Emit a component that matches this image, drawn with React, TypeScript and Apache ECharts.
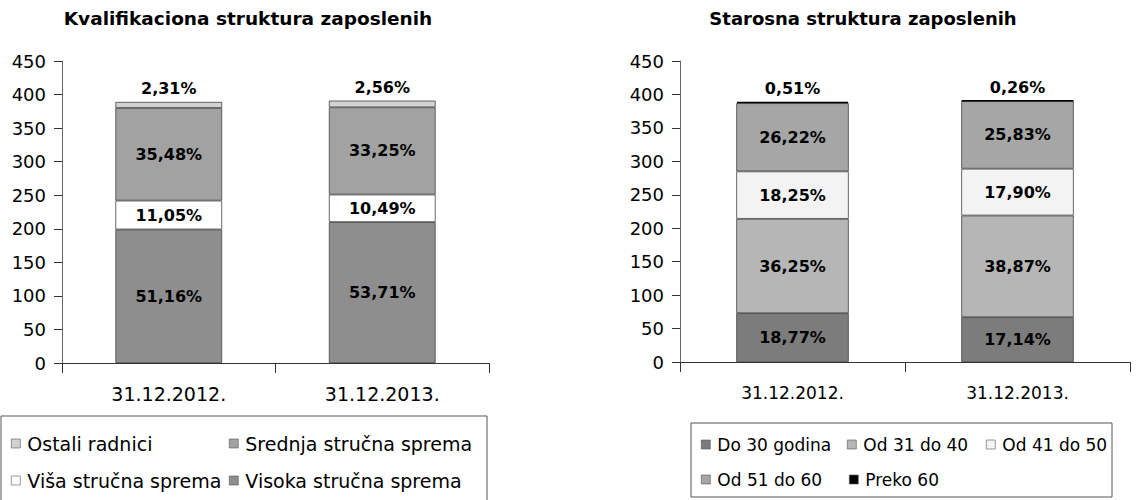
import React, { useEffect, useRef } from "react";
import * as echarts from "echarts";

const categories = ["31.12.2012.", "31.12.2013."];
const yTicks = { min: 0, max: 450, interval: 50 };

// Left chart: Kvalifikaciona struktura (number of employees)
const leftNames = ["Visoka stručna sprema", "Viša stručna sprema", "Srednja stručna sprema", "Ostali radnici"];
const visoka = [199, 210];
const visa = [43, 41];
const srednja = [138, 130];
const ostali = [9, 10];
const leftColors = ["#8e8e8e", "#ffffff", "#a2a2a2", "#d2d2d2"];

// Right chart: Starosna struktura
const rightNames = ["Do 30 godina", "Od 31 do 40", "Od 41 do 50", "Od 51 do 60", "Preko 60"];
const do30 = [73, 67];
const od31 = [141, 152];
const od41 = [71, 70];
const od51 = [102, 101];
const preko60 = [2, 1];
const rightColors = ["#7c7c7c", "#b6b6b6", "#f3f3f3", "#a6a6a6", "#000000"];

const FONT = "DejaVu Sans, Verdana, sans-serif";

export default function App() {
  const ref = useRef<HTMLDivElement>(null);
  useEffect(() => {
    document.body.style.margin = "0";
    const chart = echarts.init(ref.current!, null, { renderer: "svg" });
    const leftData = [visoka, visa, srednja, ostali];
    const rightData = [do30, od31, od41, od51, preko60];
    const leftTotals = categories.map((_, i) => leftData.reduce((s, a) => s + a[i], 0));
    const rightTotals = categories.map((_, i) => rightData.reduce((s, a) => s + a[i], 0));
    const pct = (v: number, t: number) => ((v / t) * 100).toFixed(2).replace(".", ",") + "%";

    const mkSeries = (
      names: string[], data: number[][], colors: string[], totals: number[], axisIdx: number, stack: string,
      whiteBg: number[]
    ) =>
      names.map((name, k) => {
        const isTop = k === names.length - 1;
        const isBlack = colors[k] === "#000000";
        return {
          name,
          type: "bar",
          stack,
          xAxisIndex: axisIdx,
          yAxisIndex: axisIdx,
          barWidth: "50%",
          data: data[k],
          itemStyle: { color: colors[k], borderColor: isBlack ? "#000" : "#444", borderWidth: isBlack ? 1.5 : 0.8 },
          label: {
            show: true,
            position: isTop ? "top" : "inside",
            distance: 5,
            fontFamily: FONT,
            fontSize: 16,
            fontWeight: "bold",
            color: "#000",
            formatter: (p: any) => pct(p.value, totals[p.dataIndex]),
            ...(whiteBg.includes(k) ? { backgroundColor: "#fff", padding: [2, 3] } : {}),
          },
        };
      });

    const series = [
      ...mkSeries(leftNames, leftData, leftColors, leftTotals, 0, "left", [1]),
      ...mkSeries(rightNames, rightData, rightColors, rightTotals, 1, "right", []),
    ];

    const legendItem = (name: string, left: number, top: number, size: number) => ({
      data: [name],
      left,
      top,
      padding: 0,
      itemWidth: 9,
      itemHeight: 9,
      icon: "rect",
      textStyle: { fontFamily: FONT, fontSize: size, color: "#000", padding: [0, 0, 0, 2] },
      selectedMode: false,
      itemStyle: { borderColor: "#555", borderWidth: 0.6 },
    });

    const xAxisCommon = {
      type: "category",
      data: categories,
      axisLine: { lineStyle: { color: "#333", width: 1 } },
      axisTick: { show: true, length: 10, lineStyle: { color: "#333" } },
    };
    const yAxisCommon = {
      type: "value",
      min: yTicks.min,
      max: yTicks.max,
      interval: yTicks.interval,
      axisLine: { show: true, lineStyle: { color: "#666" } },
      axisTick: { show: true, length: 8, lineStyle: { color: "#333" } },
      axisLabel: { fontFamily: FONT, fontSize: 18, color: "#000", margin: 16 },
      splitLine: { show: false },
    };

    chart.setOption({
      animation: false,
      grid: [
        { left: 62, top: 61, width: 427, height: 302 },
        { left: 680, top: 61, width: 450, height: 301 },
      ],
      xAxis: [
        { ...xAxisCommon, gridIndex: 0, axisLabel: { fontFamily: FONT, fontSize: 19, color: "#000", margin: 21 } },
        { ...xAxisCommon, gridIndex: 1, axisLabel: { fontFamily: FONT, fontSize: 17, color: "#000", margin: 22 } },
      ],
      yAxis: [
        { ...yAxisCommon, gridIndex: 0 },
        { ...yAxisCommon, gridIndex: 1 },
      ],
      legend: [
        legendItem("Ostali radnici", 11, 434, 19),
        legendItem("Srednja stručna sprema", 229, 434, 19),
        legendItem("Viša stručna sprema", 11, 471, 19),
        legendItem("Visoka stručna sprema", 229, 471, 19),
        legendItem("Do 30 godina", 701, 436, 17),
        legendItem("Od 31 do 40", 847, 436, 17),
        legendItem("Od 41 do 50", 986, 436, 17),
        legendItem("Od 51 do 60", 701, 471, 17),
        legendItem("Preko 60", 849, 471, 17),
      ],
      graphic: [
        {
          type: "text",
          x: 248,
          y: 18,
          style: {
            text: "Kvalifikaciona struktura zaposlenih",
            font: `bold 18.5px ${FONT}`,
            fill: "#000",
            textAlign: "center",
            textVerticalAlign: "middle",
          },
        },
        {
          type: "text",
          x: 863,
          y: 18,
          style: {
            text: "Starosna struktura zaposlenih",
            font: `bold 18px ${FONT}`,
            fill: "#000",
            textAlign: "center",
            textVerticalAlign: "middle",
          },
        },
        {
          type: "rect",
          shape: { x: 1, y: 416, width: 486, height: 90 },
          style: { fill: "none", stroke: "#555", lineWidth: 1 },
        },
        {
          type: "rect",
          shape: { x: 691, y: 423, width: 421, height: 74 },
          style: { fill: "none", stroke: "#555", lineWidth: 1 },
        },
      ],
      series,
    });
    return () => chart.dispose();
  }, []);
  return <div ref={ref} style={{ position: "absolute", left: 0, top: 0, width: 1148, height: 500 }} />;
}
